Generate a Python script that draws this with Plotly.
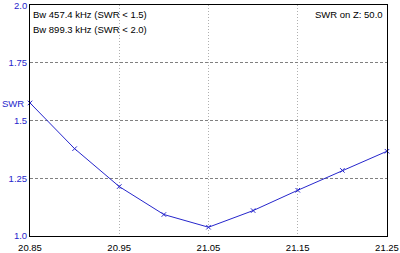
import plotly.graph_objects as go

freq = [20.85, 20.90, 20.95, 21.00, 21.05, 21.10, 21.15, 21.20, 21.25]
swr = [1.576, 1.378, 1.214, 1.093, 1.038, 1.110, 1.198, 1.284, 1.367]
x_ticks = [20.85, 20.95, 21.05, 21.15, 21.25]
x_tick_text = ["20.85", "20.95", "21.05", "21.15", "21.25"]
y_ticks = [1.0, 1.25, 1.5, 1.75]
y_tick_text = ["1.0", "1.25", "1.5", "1.75"]
y_top_tick = 2.0
y_top_text = "2.0"

FONT = "Liberation Sans, Arial, sans-serif"
BLUE = "#2626cc"
FS = 9.5

fig = go.Figure()
fig.add_trace(go.Scatter(
    x=freq, y=swr, mode="lines+markers",
    line=dict(color=BLUE, width=1),
    marker=dict(symbol="x-thin", size=4.5, line=dict(color=BLUE, width=1), color=BLUE),
    showlegend=False, cliponaxis=False,
))

fig.update_layout(
    width=400, height=253,
    margin=dict(l=30, r=13, t=5, b=17),
    paper_bgcolor="white", plot_bgcolor="white",
    font=dict(family=FONT, size=FS, color="black"),
    xaxis=dict(range=[20.85, 21.25], tickvals=x_ticks, ticktext=x_tick_text,
               showgrid=True, gridcolor="#b0b0b0", griddash="1px,2px", gridwidth=1,
               zeroline=False, showline=True, linecolor="black", linewidth=1, mirror=True,
               ticks="", ticklen=0, ticklabelstandoff=3, automargin=False,
               tickfont=dict(family=FONT, size=FS, color="black")),
    yaxis=dict(range=[1.0, 2.0], tickvals=y_ticks, ticktext=y_tick_text,
               showgrid=True, gridcolor="#808080", griddash="3px,2px", gridwidth=1,
               zeroline=False, showline=True, linecolor="black", linewidth=1, mirror=True,
               ticks="", ticklen=0, automargin=False,
               tickfont=dict(family=FONT, size=FS, color=BLUE)),
    annotations=[
        dict(text=y_top_text, xref="paper", yref="y", x=0, y=y_top_tick, xshift=-1,
             xanchor="right", yanchor="middle", showarrow=False, font=dict(family=FONT, size=FS, color=BLUE)),
        dict(text="Bw 457.4 kHz (SWR < 1.5)", xref="paper", yref="paper", x=0.003, y=0.99,
             xanchor="left", yanchor="top", showarrow=False, font=dict(family=FONT, size=FS, color="black")),
        dict(text="Bw 899.3 kHz (SWR < 2.0)", xref="paper", yref="paper", x=0.003, y=0.925,
             xanchor="left", yanchor="top", showarrow=False, font=dict(family=FONT, size=FS, color="black")),
        dict(text="SWR on Z: 50.0", xref="paper", yref="paper", x=0.995, y=0.99,
             xanchor="right", yanchor="top", showarrow=False, font=dict(family=FONT, size=FS, color="black")),
        dict(text="SWR", xref="paper", yref="paper", x=-0.084, y=0.575,
             xanchor="left", yanchor="middle", showarrow=False, font=dict(family=FONT, size=FS, color=BLUE)),
    ],
)

fig.write_html("out.html")
